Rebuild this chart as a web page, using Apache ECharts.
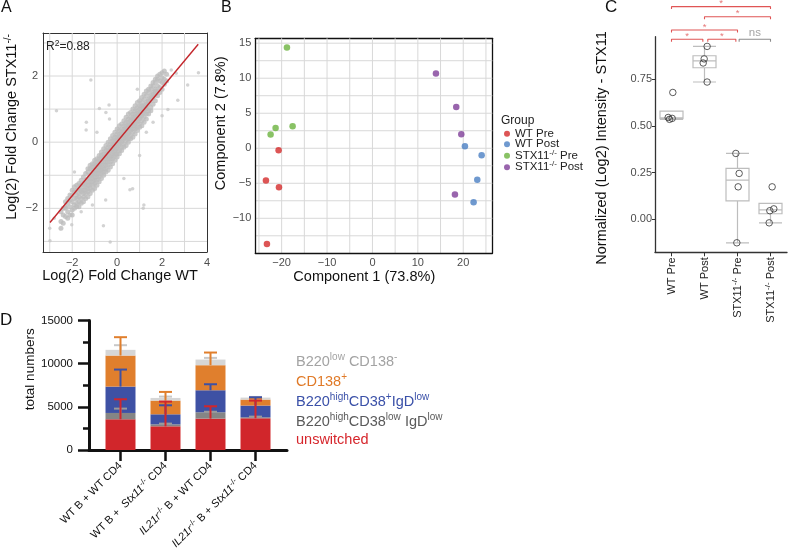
<!DOCTYPE html>
<html><head><meta charset="utf-8">
<script src="https://cdn.jsdelivr.net/npm/echarts@6/dist/echarts.min.js"></script>
<style>html,body{margin:0;padding:0;background:#fff}#c{width:791px;height:557px}</style>
</head><body><div id="c"></div>
<script>
// ---------------- Panel A : log2 fold change scatter ----------------
const aCloudRows = [
 [-2.5,[-2.4,-2.1,-2.6]],
 [-2.4,[-2.2,-2.0,-2.45]],
 [-2.3,[-2.25,-1.95,-2.0,-1.8]],
 [-2.2,[-2.1,-1.85,-1.7,-2.3]],
 [-2.1,[-1.95,-1.75,-2.2,-1.6]],
 [-2.0,[-2.05,-1.8,-1.6,-1.45,-2.2]],
 [-1.9,[-1.9,-1.7,-1.5,-1.35,-2.0]],
 [-1.8,[-1.85,-1.6,-1.45,-1.3,-1.95,-1.7]],
 [-1.7,[-1.8,-1.55,-1.4,-1.25,-1.65,-1.95]],
 [-1.6,[-1.7,-1.5,-1.3,-1.15,-1.45,-1.85]],
 [-1.5,[-1.65,-1.45,-1.25,-1.05,-1.35,-1.8,-1.55]],
 [-1.4,[-1.55,-1.35,-1.15,-0.95,-1.25,-1.7,-1.45]],
 [-1.3,[-1.5,-1.3,-1.1,-0.9,-1.2,-1.65,-1.4,-0.8]],
 [-1.2,[-1.4,-1.2,-1.0,-0.8,-1.1,-1.55,-1.3,-0.7]],
 [-1.1,[-1.3,-1.1,-0.95,-0.75,-1.0,-1.45,-1.2,-0.65,-0.85]],
 [-1.0,[-1.25,-1.05,-0.85,-0.65,-0.95,-1.4,-1.15,-0.55,-0.75]],
 [-0.9,[-1.15,-0.95,-0.75,-0.6,-0.85,-1.3,-1.05,-0.5,-0.7]],
 [-0.8,[-1.05,-0.85,-0.7,-0.5,-0.75,-1.2,-0.95,-0.4,-0.6]],
 [-0.7,[-0.95,-0.8,-0.6,-0.4,-0.7,-1.1,-0.85,-0.3,-0.5]],
 [-0.6,[-0.9,-0.7,-0.5,-0.35,-0.6,-1.0,-0.8,-0.2,-0.45]],
 [-0.5,[-0.8,-0.6,-0.45,-0.25,-0.5,-0.9,-0.7,-0.1,-0.35]],
 [-0.4,[-0.7,-0.5,-0.35,-0.15,-0.4,-0.85,-0.6,0.0,-0.25]],
 [-0.3,[-0.6,-0.45,-0.25,-0.05,-0.3,-0.75,-0.5,0.1,-0.15]],
 [-0.2,[-0.5,-0.35,-0.15,0.05,-0.2,-0.65,-0.4,0.2,-0.05]],
 [-0.1,[-0.4,-0.25,-0.05,0.15,-0.1,-0.55,-0.3,0.3,0.05]],
 [0.0,[-0.35,-0.15,0.05,0.25,0.0,-0.45,-0.2,0.4,0.15]],
 [0.1,[-0.25,-0.05,0.15,0.35,0.1,-0.35,-0.1,0.5,0.25]],
 [0.2,[-0.15,0.05,0.25,0.4,0.2,-0.25,0.0,0.55,0.3]],
 [0.3,[-0.05,0.15,0.3,0.5,0.25,-0.15,0.1,0.65,0.4]],
 [0.4,[0.05,0.2,0.4,0.6,0.35,-0.1,0.15,0.75,0.5]],
 [0.5,[0.1,0.3,0.5,0.7,0.45,0.0,0.25,0.85,0.6]],
 [0.6,[0.2,0.4,0.55,0.75,0.5,0.1,0.35,0.9,0.65]],
 [0.7,[0.3,0.5,0.65,0.85,0.6,0.15,0.4,1.0,0.75]],
 [0.8,[0.4,0.55,0.75,0.95,0.7,0.25,0.5,1.1,0.85]],
 [0.9,[0.45,0.65,0.85,1.05,0.8,0.35,0.6,1.2,0.95]],
 [1.0,[0.55,0.75,0.9,1.1,0.85,0.45,0.7,1.25,1.0]],
 [1.1,[0.65,0.85,1.0,1.2,0.95,0.5,0.8,1.35,1.1]],
 [1.2,[0.75,0.95,1.1,1.3,1.05,0.6,0.9,1.45]],
 [1.3,[0.85,1.05,1.2,1.4,1.15,0.7,1.0,1.55]],
 [1.4,[0.95,1.15,1.3,1.5,1.25,0.85,1.6]],
 [1.5,[1.05,1.25,1.4,1.6,1.35,0.95,1.7]],
 [1.6,[1.15,1.35,1.5,1.7,1.45,1.8]],
 [1.7,[1.25,1.45,1.6,1.8,1.55,1.9]],
 [1.8,[1.4,1.55,1.7,1.9,2.0]],
 [1.9,[1.5,1.65,1.85,2.05]],
 [2.0,[1.6,1.8,1.95,2.1]],
 [2.1,[1.75,1.9,2.15]],
 [2.2,[1.85,2.05]]
];
const aOutliers = [[-1.17,1.88],[2.41,2.18],[2.63,2.08],[3.14,1.73],[3.62,2.1],[2.26,0.99],[2.70,1.27],
 [-2.70,0.95],[-1.37,0.60],[-0.79,1.02],[-0.34,0.70],[-0.36,1.12],[-1.38,0.37],[0.69,-1.41],[1.19,-1.90],
 [1.16,-2.0],[0.57,-1.44],[-0.51,-1.75],[-0.61,-2.53],[-0.31,-3.02],[-2.99,-2.98],[-3.0,-2.6],[-2.52,-2.62],
 [-2.02,-2.5],[1.75,1.78],[-2.8,-2.3],[-1.6,-2.1],[1.0,-0.4],[1.6,0.6],[-0.5,0.9],[-1.9,-0.9],[0.3,-1.1],
 [-1.1,-1.9],[2.0,0.8],[1.3,0.3],[-0.9,0.3],[0.9,1.6]];
const aFit = [[-2.99,-2.43],[3.61,2.96]];
const aXLabels = [-2,0,2,4];
const aYLabels = [-2,0,2];
const aXRange = [-3.3, 4];
const aYRange = [-3.32, 3.3];
const aGridX = [-3,-2,-1,0,1,2,3];
const aGridY = [-3,-2,-1,0,1,2,3];

// ---------------- Panel B : PCA ----------------
const bGroups = ['WT Pre','WT Post','STX11-/- Pre','STX11-/- Post'];
const bWTPre   = [[-20.67,-0.29],[-23.46,-4.62],[-20.59,-5.57],[-23.24,-13.67]];
const bWTPost  = [[20.37,0.28],[24.05,-1.0],[23.09,-4.48],[22.28,-7.72]];
const bSTXPre  = [[-18.83,14.38],[-21.33,2.9],[-22.43,1.95],[-17.58,3.14]];
const bSTXPost = [[13.99,10.66],[18.46,5.9],[19.57,2.0],[18.17,-6.62]];
const bXLabels = [-20,-10,0,10,20];
const bYLabels = [-10,-5,0,5,10,15];
const bXRange = [-25.8, 26.4];
const bYRange = [-15, 15.7];
const bGridX = [-25,-20,-15,-10,-5,0,5,10,15,20,25];
const bGridY = [-12.5,-10,-7.5,-5,-2.5,0,2.5,5,7.5,10,12.5,15];

// ---------------- Panel C : STX11 intensity boxplots ----------------
const cGroups = ['WT Pre','WT Post','STX11-/- Pre','STX11-/- Post'];
const cValues = [[0.679,0.545,0.540,0.535],[0.926,0.859,0.837,0.735],[0.352,0.245,0.173,-0.127],[0.173,0.055,0.045,-0.020]];
const cJitter = [[0.04,-0.10,0.02,-0.06],[0.08,-0.01,-0.04,0.08],[-0.05,0.05,0.02,-0.02],[0.05,0.10,-0.02,-0.04]];
const cYLabels = [0,0.25,0.5,0.75];
const cBrFrom = [0,1.1,2.05,0,1,0];
const cBrTo   = [0.95,1.95,3,2,3,3];
const cBrY    = [0.964,0.964,0.964,1.014,1.085,1.139];
const cBrText = ['*','*','ns','*','*','*'];

// ---------------- Panel D : stacked bars ----------------
const dCats = ['WT B + WT CD4','WT B +  Stx11-/- CD4','IL21r-/- B + WT CD4','IL21r-/- B + Stx11-/- CD4'];
const dNames = ['unswitched','B220highCD38low IgDlow','B220highCD38+IgDlow','CD138+','B220low CD138-'];
const dUnswitched = [3560,2745,3635,3675];
const dCD38low    = [730,230,735,115];
const dCD38pos    = [3055,1160,2550,1355];
const dCD138pos   = [3595,1585,2900,695];
const dB220low    = [660,310,655,230];
const dErrUnswitched = [2316,2861,1430,2047];
const dErrCD38low    = [504,80,60,76];
const dErrCD38pos    = [1972,1045,696,963];
const dErrCD138pos   = [2127,1007,1469,100];
const dErrB220low    = [539,156,195,77];
const dLegendRich = ['unswitched','B220{s|high}CD38{s|low} IgD{s|low}','B220{s|high}CD38{s|+}IgD{s|low}','CD138{s|+}','B220{s|low} CD138{s|-}'];

// ================= build =================
const FONT = '"Liberation Sans", Arial, Helvetica, sans-serif';
const minus = v => String(v).replace('-', '\u2212');
const supify = s => s.replace(/-\/-/g, '{s|-/-}');
const supD = s => s.replace('Stx11-/-', '{i|Stx11}{s|-/-}').replace('IL21r-/-', '{i|IL21r}{s|-/-}');

const aCloud = [];
aCloudRows.forEach(([x, ys]) => ys.forEach(y => aCloud.push([x, y])));

function q7(s, p) { const h = (s.length - 1) * p, lo = Math.floor(h); return s[lo] + (h - lo) * ((s[lo + 1] ?? s[lo]) - s[lo]); }
const cBox = cValues.map(v => {
  const s = v.slice().sort((a, b) => a - b);
  const q1 = q7(s, 0.25), md = q7(s, 0.5), q3 = q7(s, 0.75), iqr = q3 - q1;
  const inside = s.filter(x => x >= q1 - 1.5 * iqr && x <= q3 + 1.5 * iqr);
  return [Math.min(inside[0], q1), q1, md, q3, Math.max(inside[inside.length - 1], q3)];
});
const cPts = [];
cValues.forEach((v, g) => v.forEach((y, k) => cPts.push([g + cJitter[g][k], y])));

const dSegs = [dUnswitched, dCD38low, dCD38pos, dCD138pos, dB220low];
const dErrs = [dErrUnswitched, dErrCD38low, dErrCD38pos, dErrCD138pos, dErrB220low];
const dBarColors = ['#d1262b', '#858585', '#3e51a4', '#e07f2d', '#d6d6d6'];
const dErrColors = ['#d1262b', '#9a9a9a', '#3e51a4', '#e07f2d', '#c8c8c8'];
const dTextColors = ['#d6262c', '#5a5a5a', '#3a50a8', '#e07a28', '#a3a3a3'];
const cum = dSegs.map((arr, i) => arr.map((_, j) => dSegs.slice(0, i + 1).reduce((t, a) => t + a[j], 0)));

const gridTxt = { color: '#4d4d4d', fontSize: 11 };
const supRich = (fs, pb) => ({ s: { fontSize: fs, padding: [0, 0, pb, 0] }, i: { fontStyle: 'italic' } });
const GRIDCOL = '#d8d8d8';

const series = [];
// grid lines as plain line series in data coordinates
function gridLines(ax, xs, ys, xr, yr) {
  xs.forEach(v => series.push({ type: 'line', xAxisIndex: ax, yAxisIndex: ax, data: [[v, yr[0]], [v, yr[1]]], symbol: 'none', silent: true, z: 1,
    lineStyle: { color: GRIDCOL, width: 1 } }));
  ys.forEach(v => series.push({ type: 'line', xAxisIndex: ax, yAxisIndex: ax, data: [[xr[0], v], [xr[1], v]], symbol: 'none', silent: true, z: 1,
    lineStyle: { color: GRIDCOL, width: 1 } }));
}
gridLines(0, aGridX, aGridY, aXRange, aYRange);
gridLines(1, bGridX, bGridY, bXRange, bYRange);
// A
series.push({ type: 'scatter', xAxisIndex: 0, yAxisIndex: 0, data: aCloud, symbolSize: 5, itemStyle: { color: '#bdbdbd' }, silent: true, z: 2 });
series.push({ type: 'scatter', xAxisIndex: 0, yAxisIndex: 0, data: aOutliers, symbolSize: 3.5, itemStyle: { color: '#c8c8c8' }, silent: true, z: 2 });
series.push({ type: 'line', xAxisIndex: 0, yAxisIndex: 0, data: aFit, showSymbol: false, symbol: 'none', lineStyle: { color: '#c3262b', width: 1.4 }, z: 3 });
// B
const bCols = ['#d42a2a', '#4b80c3', '#6cb33f', '#7f3f98'];
[bWTPre, bWTPost, bSTXPre, bSTXPost].forEach((d, i) => series.push({ name: bGroups[i], type: 'scatter', xAxisIndex: 1, yAxisIndex: 1, data: d, symbolSize: 6.5, itemStyle: { color: bCols[i] }, z: 3 }));
// C
series.push({ type: 'boxplot', xAxisIndex: 2, yAxisIndex: 2, data: cBox, boxWidth: [23, 23], itemStyle: { color: '#fff', borderColor: '#bdbdbd', borderWidth: 1.2 }, silent: true });
series.push({ type: 'scatter', xAxisIndex: 3, yAxisIndex: 2, data: cPts, symbolSize: 6.5, itemStyle: { color: 'rgba(255,255,255,0)', borderColor: '#333', borderWidth: 1 }, z: 5 });
cBrFrom.forEach((f, i) => {
  const t = cBrTo[i], y = cBrY[i], col = cBrText[i] === 'ns' ? '#8c8c8c' : '#e05555';
  series.push({ type: 'line', xAxisIndex: 3, yAxisIndex: 2, clip: false, symbol: 'none', silent: true,
    data: [[f, y - 0.013], [f, y], [t, y], [t, y - 0.013]], lineStyle: { color: col, width: 1.1 } });
});
series.push({ type: 'scatter', xAxisIndex: 3, yAxisIndex: 2, clip: false, symbolSize: 0, silent: true,
  data: cBrFrom.map((f, i) => ({ value: [(f + cBrTo[i]) / 2, cBrY[i]],
    label: { show: true, position: 'top', distance: cBrText[i] === 'ns' ? 0 : -2, formatter: cBrText[i],
      color: cBrText[i] === 'ns' ? '#8c8c8c' : '#e05555', fontSize: cBrText[i] === 'ns' ? 11.5 : 9.5 } })) });
// D bars
dSegs.forEach((arr, i) => series.push({ name: dNames[i], type: 'bar', xAxisIndex: 4, yAxisIndex: 3, stack: 'tot', data: arr, barWidth: 30, itemStyle: { color: dBarColors[i] }, z: 2 }));
[4, 3, 2, 1, 0].forEach(i => series.push({ type: 'custom', xAxisIndex: 4, yAxisIndex: 3, z: 4, silent: true,
  data: cum[i].map((top, j) => [j, top, top + dErrs[i][j]]), encode: { x: 0, y: [1, 2] },
  renderItem: (params, api) => {
    const p1 = api.coord([api.value(0), api.value(1)]), p2 = api.coord([api.value(0), api.value(2)]);
    const st = { stroke: dErrColors[i], lineWidth: 2 };
    return { type: 'group', children: [
      { type: 'line', shape: { x1: p1[0], y1: p1[1], x2: p2[0], y2: p2[1] }, style: st },
      { type: 'line', shape: { x1: p2[0] - 6.5, y1: p2[1], x2: p2[0] + 6.5, y2: p2[1] }, style: st } ] };
  } }));

const frameAxis = (grid, pos, col, w) => ({ type: 'value', gridIndex: grid, min: 0, max: 1, position: pos,
  axisLine: { show: true, onZero: false, lineStyle: { color: col, width: w } }, axisTick: { show: false }, axisLabel: { show: false }, splitLine: { show: false } });

const option = {
  animation: false,
  textStyle: { fontFamily: FONT },
  title: [
    { text: 'A', left: 1, top: 0, padding: 0, textStyle: { fontSize: 16, fontWeight: 'normal', color: '#111' } },
    { text: 'B', left: 221, top: 0, padding: 0, textStyle: { fontSize: 16, fontWeight: 'normal', color: '#111' } },
    { text: 'C', left: 605, top: -1, padding: 0, textStyle: { fontSize: 17, fontWeight: 'normal', color: '#111' } },
    { text: 'D', left: 0, top: 312, padding: 0, textStyle: { fontSize: 17, fontWeight: 'normal', color: '#111' } },
    { text: 'R{s|2}=0.88', left: 46, top: 39, padding: 0, textStyle: { fontSize: 12, fontWeight: 'normal', color: '#222', rich: supRich(8.5, 6) } },
    { text: 'Group', left: 501, top: 115, padding: 0, textStyle: { fontSize: 12, fontWeight: 'normal', color: '#222' } }
  ],
  legend: [
    { data: bGroups, orient: 'vertical', left: 504, top: 127.7, icon: 'circle', itemWidth: 6, itemHeight: 6, itemGap: -1.5, padding: 0,
      formatter: n => supify(n), textStyle: { fontSize: 11.5, color: '#222', rich: supRich(8, 6) } },
    { data: [4, 3, 2, 1, 0].map(i => ({ name: dNames[i], textStyle: { color: dTextColors[i] } })), orient: 'vertical', left: 291, top: 352,
      icon: 'rect', itemWidth: 0, itemHeight: 0, itemGap: 2.5, padding: 0,
      formatter: n => dLegendRich[dNames.indexOf(n)], textStyle: { fontSize: 14.5, rich: supRich(10, 10) } }
  ],
  grid: [
    { left: 43, top: 33, width: 164, height: 219 },
    { left: 255.3, top: 38.3, width: 237, height: 215 },
    { left: 655, top: 36.7, width: 132, height: 215.6 },
    { left: 98, top: 320.5, width: 180, height: 129.5 },
    { left: 89, top: 320.5, width: 198, height: 129.5 }
  ],
  xAxis: [
    { type: 'value', gridIndex: 0, min: aXRange[0], max: aXRange[1], splitNumber: 7, position: 'bottom', z: 4,
      name: 'Log(2) Fold Change WT', nameLocation: 'middle', nameGap: 11, nameTextStyle: { fontSize: 14.5, color: '#111', padding: [0, 10, 0, 0] },
      axisLine: { show: true, onZero: false, lineStyle: { color: '#333' } }, axisTick: { show: false },
      axisLabel: { formatter: v => aXLabels.includes(v) ? minus(v) : '', margin: 5, ...gridTxt },
      splitLine: { show: false } },
    { type: 'value', gridIndex: 1, min: bXRange[0], max: bXRange[1], splitNumber: 10, position: 'bottom', z: 4,
      name: 'Component 1 (73.8%)', nameLocation: 'middle', nameGap: 11, nameTextStyle: { fontSize: 14.5, color: '#111', padding: [0, 19, 0, 0] },
      axisLine: { show: true, onZero: false, lineStyle: { color: '#111', width: 1.3 } }, axisTick: { show: false },
      axisLabel: { formatter: v => bXLabels.includes(v) ? minus(v) : '', margin: 4, ...gridTxt },
      splitLine: { show: false } },
    { type: 'category', gridIndex: 2, data: cGroups, boundaryGap: true,
      axisLine: { show: true, onZero: false, lineStyle: { color: '#333', width: 1.3 } }, axisTick: { show: true, alignWithLabel: true, length: 4, lineStyle: { color: '#333' } },
      axisLabel: { rotate: 90, margin: 5, fontSize: 11, color: '#222', formatter: n => supify(n), rich: supRich(8, 6) }, splitLine: { show: false } },
    { type: 'value', gridIndex: 2, min: -0.5, max: 3.5, show: false },
    { type: 'category', gridIndex: 3, data: dCats, boundaryGap: true,
      axisLine: { show: false, onZero: false }, axisTick: { show: true, alignWithLabel: true, length: 11, lineStyle: { color: '#111', width: 2.5 } },
      axisLabel: { rotate: 45, margin: 14, fontSize: 11, color: '#111', interval: 0, formatter: n => supD(n), rich: supRich(8, 6) } },
    { type: 'value', gridIndex: 4, min: 0, max: 1, axisLine: { show: true, onZero: false, lineStyle: { color: '#111', width: 3 } },
      axisTick: { show: false }, axisLabel: { show: false }, splitLine: { show: false } },
    frameAxis(0, 'top', '#333', 1),
    frameAxis(1, 'top', '#111', 1.3)
  ],
  yAxis: [
    { type: 'value', gridIndex: 0, min: aYRange[0], max: aYRange[1], splitNumber: 7, position: 'left', z: 4,
      name: 'Log(2) Fold Change STX11{s|-/-}', nameLocation: 'middle', nameGap: 22,
      nameTextStyle: { fontSize: 14.5, color: '#111', padding: [0, 0, 0, 31], rich: supRich(10, 8) },
      axisLine: { show: true, onZero: false, lineStyle: { color: '#333' } }, axisTick: { show: false },
      axisLabel: { formatter: v => aYLabels.includes(v) ? minus(v) : '', margin: 5, ...gridTxt },
      splitLine: { show: false } },
    { type: 'value', gridIndex: 1, min: bYRange[0], max: bYRange[1], interval: 2.5, position: 'left', z: 4,
      name: 'Component 2 (7.8%)', nameLocation: 'middle', nameGap: 20,
      nameTextStyle: { fontSize: 14.5, color: '#111', padding: [0, 0, 0, 45] },
      axisLine: { show: true, onZero: false, lineStyle: { color: '#111', width: 1.3 } }, axisTick: { show: false },
      axisLabel: { formatter: v => bYLabels.includes(v) ? minus(v) : '', margin: 4, ...gridTxt },
      splitLine: { show: false } },
    { type: 'value', gridIndex: 2, min: -0.178, max: 0.978,
      name: 'Normalized (Log2) Intensity - STX11', nameLocation: 'middle', nameGap: 46,
      nameTextStyle: { fontSize: 14.5, color: '#111', padding: [0, 7, 0, 0] },
      axisLine: { show: true, onZero: false, lineStyle: { color: '#333', width: 1.3 } }, axisTick: { show: true, length: 3, customValues: cYLabels, lineStyle: { color: '#333' } },
      axisLabel: { customValues: cYLabels, formatter: v => cYLabels.includes(v) ? v.toFixed(2) : '', margin: 3, ...gridTxt },
      splitLine: { show: false } },
    { type: 'value', gridIndex: 3, min: 0, max: 15000, interval: 5000, offset: 9,
      name: 'total numbers', nameLocation: 'middle', nameGap: 52,
      nameTextStyle: { fontSize: 13.5, color: '#111', padding: [0, 0, 0, 32] },
      axisLine: { show: true, onZero: false, lineStyle: { color: '#111', width: 3 } },
      axisTick: { show: true, length: 11, lineStyle: { color: '#111', width: 2.5 } },
      minorTick: { show: true, splitNumber: 2, length: 6, lineStyle: { color: '#111', width: 2.5 } },
      axisLabel: { margin: 16, fontSize: 11.5, color: '#111', formatter: v => String(v) }, splitLine: { show: false } },
    { type: 'value', gridIndex: 4, min: 0, max: 15000, show: false },
    frameAxis(0, 'right', '#333', 1),
    frameAxis(1, 'right', '#111', 1.3)
  ],
  series
};
const chart = echarts.init(document.getElementById('c'), null, { renderer: 'canvas' });
chart.setOption(option);
</script></body></html>
